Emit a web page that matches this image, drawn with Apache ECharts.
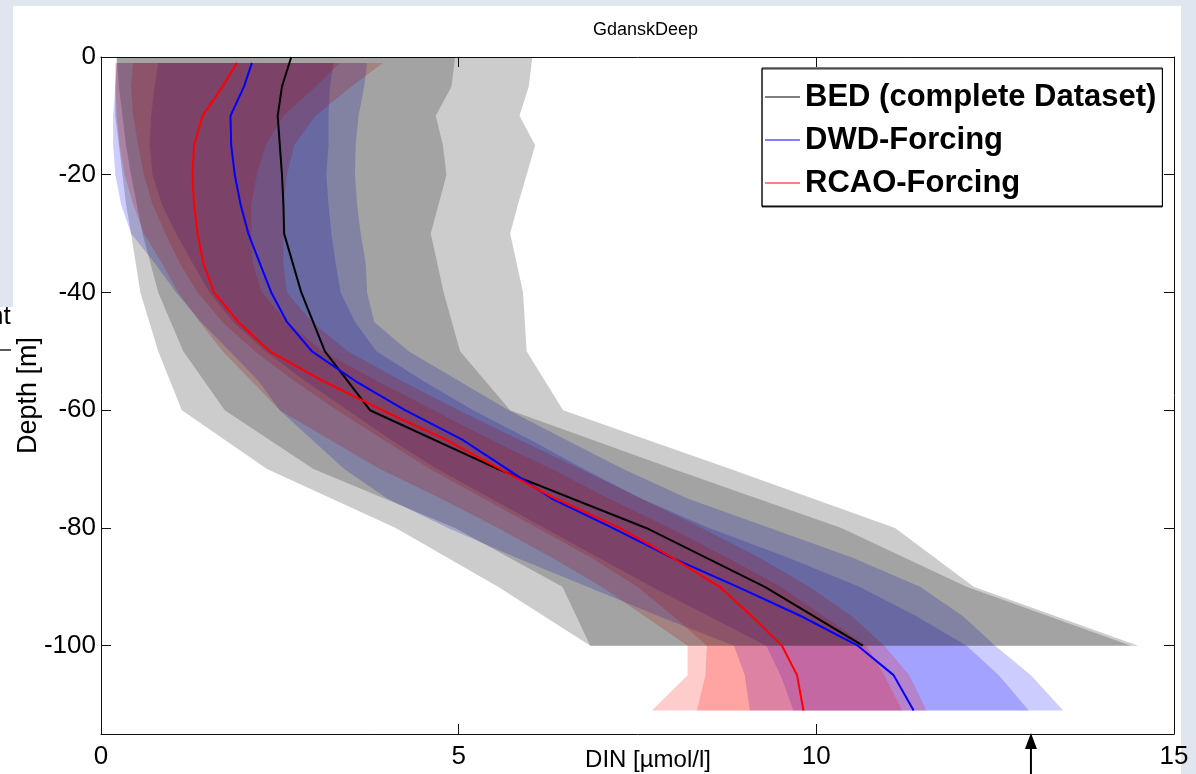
<!DOCTYPE html>
<html>
<head>
<meta charset="utf-8">
<script src="https://cdn.jsdelivr.net/npm/echarts@6.0.0/dist/echarts.min.js"></script>
<style>
html,body{margin:0;padding:0;background:#e0e6f0;}
#c{width:1196px;height:774px;}
</style>
</head>
<body>
<div id="c"></div>
<script>
// ---------- data ----------
const titleText = 'GdanskDeep';
const xName = 'DIN [µmol/l]';
const yName = 'Depth [m]';
const xTickValues = [0, 5, 10, 15];
const yTickValues = [-100, -80, -60, -40, -20, 0];
const seriesNames = ['BED (complete Dataset)', 'DWD-Forcing', 'RCAO-Forcing'];
const arrowX = [13];

// BED (observations) at standard depths
const bedDepth = [0, -5, -10, -15, -20, -25, -30, -40, -50, -60, -70, -80, -90, -100];
const bedP10   = [0.22, 0.20, 0.20, 0.25, 0.30, 0.35, 0.42, 0.55, 0.80, 1.13, 2.32, 4.12, 5.55, 6.84];
const bedP25   = [0.22, 0.25, 0.30, 0.35, 0.42, 0.50, 0.58, 0.80, 1.15, 1.73, 2.97, 4.95, 6.45, 6.84];
const bedMed   = [2.66, 2.53, 2.47, 2.50, 2.53, 2.55, 2.56, 2.80, 3.13, 3.76, 5.55, 7.62, 9.28, 10.65];
const bedP75   = [4.95, 4.90, 4.68, 4.78, 4.83, 4.72, 4.61, 4.79, 5.02, 5.72, 8.00, 10.35, 12.10, 14.40];
const bedP90   = [6.03, 5.98, 5.85, 6.07, 5.95, 5.83, 5.72, 5.90, 5.95, 6.46, 8.80, 11.10, 12.20, 14.50];

// model depths
const modDepth = [-1, -5, -10, -15, -20, -25, -30, -35, -40, -45, -50, -55, -60, -65, -70, -75, -80, -85, -90, -95, -100, -105, -111];

// DWD-Forcing
const dwdP10 = [0.22, 0.20, 0.17, 0.17, 0.20, 0.28, 0.42, 0.75, 1.05, 1.40, 1.80, 2.20, 2.50, 2.95, 3.40, 4.00, 4.85, 5.80, 6.80, 7.80, 8.85, 9.00, 9.07];
const dwdP25 = [0.80, 0.75, 0.70, 0.68, 0.72, 0.85, 1.05, 1.28, 1.52, 1.85, 2.30, 2.85, 3.45, 4.05, 4.70, 5.45, 6.20, 6.95, 7.70, 8.50, 9.30, 9.50, 9.68];
const dwdMed = [2.11, 2.00, 1.81, 1.82, 1.87, 1.95, 2.06, 2.22, 2.38, 2.60, 2.95, 3.55, 4.25, 5.05, 5.68, 6.30, 7.15, 7.97, 8.90, 9.79, 10.58, 11.08, 11.36];
const dwdP75 = [3.25, 3.20, 3.18, 3.18, 3.15, 3.18, 3.22, 3.28, 3.35, 3.55, 3.85, 4.50, 5.20, 6.00, 6.75, 7.55, 8.50, 9.60, 10.60, 11.40, 12.10, 12.55, 12.97];
const dwdP90 = [3.72, 3.68, 3.60, 3.56, 3.55, 3.58, 3.63, 3.70, 3.72, 3.82, 4.30, 5.00, 5.70, 6.50, 7.30, 8.20, 9.35, 10.50, 11.45, 12.05, 12.50, 13.00, 13.45];

// RCAO-Forcing
const rcaoP10 = [0.20, 0.20, 0.22, 0.26, 0.33, 0.45, 0.60, 0.85, 1.08, 1.38, 1.70, 2.10, 2.50, 3.20, 3.90, 4.75, 5.55, 6.30, 7.00, 7.60, 8.20, 8.20, 7.70];
const rcaoP25 = [0.45, 0.42, 0.45, 0.52, 0.60, 0.72, 0.90, 1.10, 1.35, 1.70, 2.15, 2.70, 3.30, 3.95, 4.60, 5.35, 6.10, 6.85, 7.50, 8.00, 8.47, 8.45, 8.33];
const rcaoMed = [1.90, 1.70, 1.42, 1.30, 1.28, 1.30, 1.35, 1.43, 1.58, 1.92, 2.36, 3.10, 3.93, 4.82, 5.58, 6.35, 7.25, 7.98, 8.65, 9.10, 9.52, 9.73, 9.82];
const rcaoP75 = [3.34, 3.00, 2.55, 2.30, 2.18, 2.10, 2.10, 2.12, 2.25, 2.60, 3.10, 3.85, 4.65, 5.45, 6.30, 7.10, 7.95, 8.75, 9.50, 10.10, 10.70, 10.95, 11.20];
const rcaoP90 = [3.94, 3.50, 3.00, 2.70, 2.60, 2.55, 2.55, 2.55, 2.60, 2.95, 3.45, 4.20, 5.00, 5.85, 6.70, 7.55, 8.40, 9.20, 9.90, 10.50, 10.95, 11.30, 11.54];

// ---------- chart ----------
const FONT = "'Liberation Sans', Arial, Helvetica, sans-serif";

function band(name, depth, lo, hi, fill, z) {
  const data = depth.map((d, i) => [lo[i], d, hi[i]]);
  return {
    type: 'custom', name: name, z: z, silent: true,
    coordinateSystem: 'cartesian2d', xAxisIndex: 0, yAxisIndex: 0,
    data: data,
    encode: { x: [0, 2], y: 1 },
    renderItem: function (params, api) {
      if (params.dataIndexInside !== 0) return null;
      const pts = [];
      for (let i = 0; i < depth.length; i++) pts.push(api.coord([lo[i], depth[i]]));
      for (let i = depth.length - 1; i >= 0; i--) pts.push(api.coord([hi[i], depth[i]]));
      return { type: 'polygon', shape: { points: pts }, style: { fill: fill, stroke: null } };
    }
  };
}

function line(name, depth, vals, color, width, z) {
  return {
    type: 'line', name: name, z: z, color: color,
    xAxisIndex: 0, yAxisIndex: 0,
    data: depth.map((d, i) => [vals[i], d]),
    showSymbol: false, symbol: 'none', smooth: false, silent: true,
    lineStyle: { color: color, width: width },
    itemStyle: { color: color }
  };
}

const axisCommon = {
  axisLine: { show: true, onZero: false, lineStyle: { color: '#111', width: 1 } },
  splitLine: { show: false }
};

const chart = echarts.init(document.getElementById('c'), null, { renderer: 'canvas' });

chart.setOption({
  backgroundColor: '#e0e6f0',
  animation: false,
  textStyle: { fontFamily: FONT },
  title: {
    text: titleText, left: 588, top: 16,
    textStyle: { fontSize: 18, fontWeight: 'normal', color: '#000', fontFamily: FONT }
  },
  grid: { left: 101, right: 22, top: 57, bottom: 40, show: false, containLabel: false, outerBoundsMode: 'none' },
  legend: {
    orient: 'vertical', left: 762, top: 68,
    padding: [12, 6, 6, 3], itemGap: 9, itemWidth: 35, itemHeight: 1,
    icon: 'rect',
    backgroundColor: '#fff', borderColor: '#000', borderWidth: 1, borderRadius: 0,
    shadowColor: 'rgba(0,0,0,0.8)', shadowOffsetY: 1, shadowOffsetX: 0, shadowBlur: 0,
    selectedMode: false,
    textStyle: { fontSize: 31, fontWeight: 'bold', color: '#000', lineHeight: 34, fontFamily: FONT },
    data: seriesNames
  },
  xAxis: [
    Object.assign({}, axisCommon, {
      type: 'value', min: xTickValues[0], max: xTickValues[xTickValues.length - 1], interval: 5,
      position: 'bottom',
      axisTick: { show: true, inside: true, length: 10, lineStyle: { color: '#111' } },
      axisLabel: { show: true, fontSize: 26, color: '#000', margin: 10, fontFamily: FONT },
      name: xName, nameLocation: 'middle', nameGap: 14, nameMoveOverlap: false,
      nameTextStyle: { fontSize: 24, color: '#000', padding: [0, 0, 0, 21], fontFamily: FONT }
    }),
    Object.assign({}, axisCommon, {
      type: 'value', min: xTickValues[0], max: xTickValues[xTickValues.length - 1], interval: 5,
      position: 'top',
      axisTick: { show: true, inside: true, length: 10, lineStyle: { color: '#111' } },
      axisLabel: { show: false }
    })
  ],
  yAxis: [
    Object.assign({}, axisCommon, {
      type: 'value', min: -115, max: 0, position: 'left',
      axisTick: { show: true, inside: true, length: 10, customValues: yTickValues, lineStyle: { color: '#111' } },
      axisLabel: { show: true, fontSize: 26, color: '#000', margin: 5, customValues: yTickValues, fontFamily: FONT },
      name: yName, nameLocation: 'middle', nameGap: 59, nameMoveOverlap: false,
      nameTextStyle: { fontSize: 27, color: '#000', fontFamily: FONT }
    }),
    Object.assign({}, axisCommon, {
      type: 'value', min: -115, max: 0, position: 'right',
      axisTick: { show: true, inside: true, length: 10, customValues: yTickValues, lineStyle: { color: '#111' } },
      axisLabel: { show: false }
    })
  ],
  series: [
    band('DWD p10-p90', modDepth, dwdP10, dwdP90, 'rgba(0,0,255,0.2)', 1),
    band('DWD p25-p75', modDepth, dwdP25, dwdP75, 'rgba(0,0,255,0.2)', 1),
    band('RCAO p10-p90', modDepth, rcaoP10, rcaoP90, 'rgba(255,0,0,0.2)', 1),
    band('RCAO p25-p75', modDepth, rcaoP25, rcaoP75, 'rgba(255,0,0,0.2)', 1),
    band('BED p10-p90', bedDepth, bedP10, bedP90, 'rgba(0,0,0,0.2)', 1),
    band('BED p25-p75', bedDepth, bedP25, bedP75, 'rgba(0,0,0,0.2)', 1),
    line(seriesNames[0], bedDepth, bedMed, '#000000', 2, 5),
    line(seriesNames[1], modDepth, dwdMed, '#0000ff', 2, 5),
    line(seriesNames[2], modDepth, rcaoMed, '#ff0000', 2, 5)
  ]
});

// background panels, slide fragments and the arrow annotation
const ax = chart.convertToPixel({ xAxisIndex: 0 }, arrowX[0]);
const yBottom = chart.convertToPixel({ yAxisIndex: 0 }, -115);
chart.setOption({
  graphic: [
    { type: 'rect', z: -100, silent: true, shape: { x: 13, y: 6, width: 1168, height: 768 }, style: { fill: '#ffffff' } },
    { type: 'rect', z: -100, silent: true, shape: { x: 0, y: 307, width: 13, height: 467 }, style: { fill: '#ffffff' } },
    { type: 'text', z: 10, silent: true, x: -11, y: 304, style: { text: 'nt', font: "26px " + FONT, fill: '#000' } },
    { type: 'line', z: 10, silent: true, shape: { x1: 0, y1: 350, x2: 11, y2: 350 }, style: { stroke: '#222', lineWidth: 1.5 } },
    { type: 'polygon', z: 10, silent: true, shape: { points: [[ax, yBottom - 1], [ax - 6, yBottom + 15], [ax + 6, yBottom + 15]] }, style: { fill: '#000' } },
    { type: 'line', z: 10, silent: true, shape: { x1: ax, y1: yBottom + 12, x2: ax, y2: 774 }, style: { stroke: '#000', lineWidth: 2 } }
  ]
});
</script>
</body>
</html>
